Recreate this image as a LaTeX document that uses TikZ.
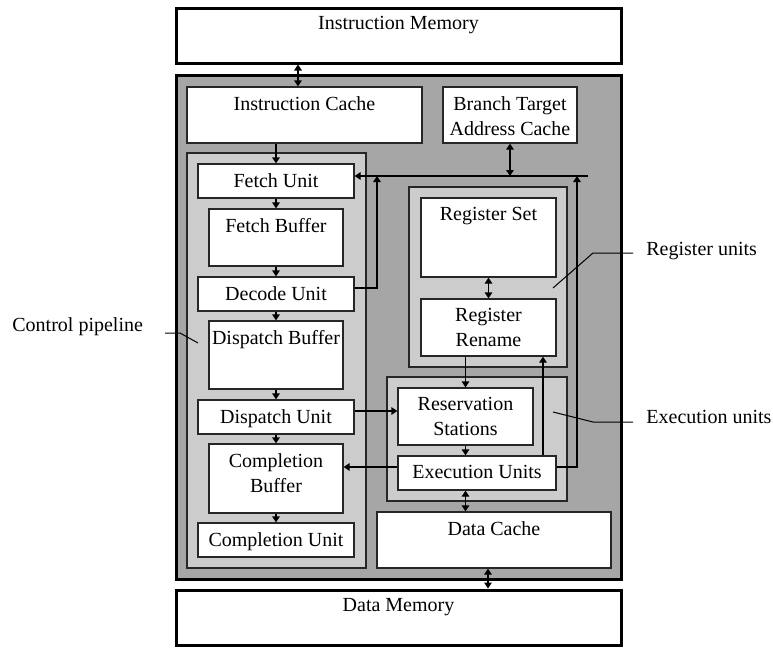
\documentclass[tikz,border=0pt]{standalone}
\usepackage{fontspec}
\setmainfont{Liberation Serif}
\usepackage{xcolor}
\usepackage{tikz}
\usetikzlibrary{arrows.meta,fit,positioning}
\definecolor{corefill}{HTML}{A6A6A6}
\definecolor{groupfill}{HTML}{CCCCCC}
\definecolor{edge}{HTML}{262626}
\tikzset{
  outer/.style={draw=black, line width=1.5pt, inner sep=0pt},
  group/.style={draw=edge, fill=groupfill, line width=0.6pt, inner sep=0pt},
  unit/.style={draw=edge, fill=white, line width=0.6pt, inner sep=0pt},
  caption/.style={anchor=north, inner sep=0pt, align=center, font=\fontsize{10}{12.5}\selectfont},
  side/.style={anchor=base west, inner sep=0pt, font=\fontsize{10}{12.5}\selectfont},
  arr/.style={draw=black, line width=0.6pt, -{Triangle[width=3.8pt,length=3pt]}},
  dbl/.style={draw=black, line width=0.6pt, {Triangle[width=3.8pt,length=3pt]}-{Triangle[width=3.8pt,length=3pt]}},
  lead/.style={draw=black, line width=0.5pt}
}

\begin{document}
\begin{tikzpicture}[x=0.5pt, y=-0.5pt]
  \useasboundingbox (0,0) rectangle (773,648);

  % memories and processor frame
  \node[outer, fill=white, fit={(176,8) (621,63)}] (imem) {};
  \node[outer, fill=corefill, fit={(176,75) (621,579)}] (core) {};
  \node[outer, fill=white, fit={(176,590) (621,645)}] (dmem) {};

  % caches
  \node[unit, fit={(187,87) (422,143)}] (icache) {};
  \node[unit, fit={(443,87) (577,143)}] (btac) {};
  \node[unit, fit={(377,512) (611,568)}] (dcache) {};

  % control pipeline
  \node[group, fit={(187,153) (366,568)}] (pipe) {};
  \node[unit, fit={(198,164) (354,198)}] (fetch) {};
  \node[unit, fit={(209,209) (343,266)}] (fbuf) {};
  \node[unit, fit={(198,277) (354,311)}] (decode) {};
  \node[unit, fit={(209,321) (343,389)}] (dbuf) {};
  \node[unit, fit={(198,400) (354,434)}] (dispatch) {};
  \node[unit, fit={(209,444) (343,513)}] (cbuf) {};
  \node[unit, fit={(198,523) (354,557)}] (cunit) {};

  % register units
  \node[group, fit={(409,187) (567,367)}] (regs) {};
  \node[unit, fit={(421,198) (556,277)}] (regset) {};
  \node[unit, fit={(421,299) (556,356)}] (rename) {};

  % execution units
  \node[group, fit={(387,377) (567,501)}] (execs) {};
  \node[unit, fit={(398,388) (533,445)}] (resv) {};
  \node[unit, fit={(398,456) (556,490)}] (exec) {};

  % box texts
  \node[caption, below=4.8pt of imem.north] (imem-t) {Instruction Memory};
  \node[caption, below=4.8pt of dmem.north] (dmem-t) {Data Memory};
  \node[caption, below=4.8pt of icache.north] (icache-t) {Instruction Cache};
  \node[caption, below=4.8pt of btac.north] (btac-t) {Branch Target\\Address Cache};
  \node[caption, below=4.8pt of dcache.north] (dcache-t) {Data Cache};
  \node[caption, below=4.8pt of fetch.north] (fetch-t) {Fetch Unit};
  \node[caption, below=4.8pt of fbuf.north] (fbuf-t) {Fetch Buffer};
  \node[caption, below=4.8pt of decode.north] (decode-t) {Decode Unit};
  \node[caption, below=4.8pt of dbuf.north] (dbuf-t) {Dispatch Buffer};
  \node[caption, below=4.8pt of dispatch.north] (dispatch-t) {Dispatch Unit};
  \node[caption, below=4.8pt of cbuf.north] (cbuf-t) {Completion\\Buffer};
  \node[caption, below=4.8pt of cunit.north] (cunit-t) {Completion Unit};
  \node[caption, below=4.8pt of regset.north] (regset-t) {Register Set};
  \node[caption, below=4.8pt of rename.north] (rename-t) {Register\\Rename};
  \node[caption, below=4.8pt of resv.north] (resv-t) {Reservation\\Stations};
  \node[caption, below=4.8pt of exec.north] (exec-t) {Execution Units};

  % side labels
  \node[side] (pipe-l) at (12,331) {Control pipeline};
  \node[side] (regs-l) at (646,255) {Register units};
  \node[side] (execs-l) at (646,423) {Execution units};
  \draw[lead] (165,333) -- (180,333) -- (198,343);
  \draw[lead] (633,253) -- (593,253) -- (553,288);
  \draw[lead] (633,422) -- (593,422) -- (553,412);

  % connections
  \coordinate (bus) at (588,176);
  \draw[dbl] (imem.south -| 298,0) -- (icache.north -| 298,0);
  \draw[arr] (icache.south -| fetch.north) -- (fetch.north);
  \draw[arr] (fetch.south) -- (fbuf.north);
  \draw[arr] (fbuf.south) -- (decode.north);
  \draw[arr] (decode.south) -- (dbuf.north);
  \draw[arr] (dbuf.south) -- (dispatch.north);
  \draw[arr] (dispatch.south) -- (cbuf.north);
  \draw[arr] (cbuf.south) -- (cunit.north);
  \draw[arr] (bus) -- (fetch.east |- bus);
  \draw[arr] (decode.east |- 0,288) -| (377,176);
  \draw[dbl] (btac.south) -- (btac.south |- bus);
  \draw[arr] (exec.east |- 0,467) -| (577,176);
  \draw[dbl] (regset.south) -- (rename.north);
  \draw[arr] (rename.south -| resv.north) -- (resv.north);
  \draw[arr] (exec.north -| 543,0) -- (rename.south -| 543,0);
  \draw[arr] (dispatch.east |- 0,411) -- (resv.west |- 0,411);
  \draw[arr] (resv.south) -- (resv.south |- exec.north);
  \draw[arr] (exec.west |- 0,467) -- (cbuf.east |- 0,467);
  \draw[dbl] (exec.south -| resv.south) -- (dcache.north -| resv.south);
  \draw[dbl] (dcache.south -| 488,0) -- (dmem.north -| 488,0);
\end{tikzpicture}
\end{document}
